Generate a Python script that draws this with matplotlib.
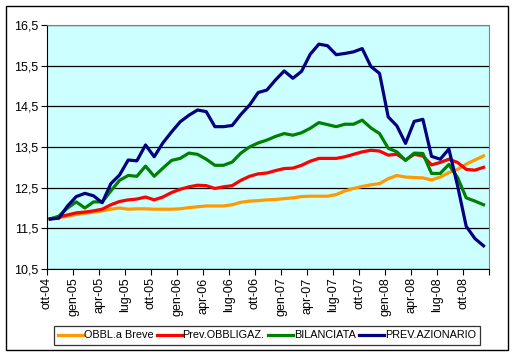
import matplotlib
matplotlib.use("Agg")
import matplotlib.pyplot as plt
from matplotlib.patches import Rectangle

# dati mensili da ott-04 a dic-08
mesi = list(range(51))

obbl_breve = [11.73, 11.76, 11.80, 11.84, 11.87, 11.90, 11.93, 11.97, 12.00, 11.97,
              11.98, 11.98, 11.97, 11.97, 11.97, 11.98, 12.01, 12.03, 12.05, 12.05,
              12.05, 12.08, 12.14, 12.17, 12.18, 12.20, 12.21, 12.23, 12.25, 12.28,
              12.29, 12.29, 12.29, 12.33, 12.42, 12.48, 12.53, 12.57, 12.60, 12.72,
              12.80, 12.76, 12.75, 12.74, 12.69, 12.76, 12.87, 12.95, 13.08, 13.18,
              13.28]

prev_obblig = [11.73, 11.78, 11.83, 11.88, 11.90, 11.93, 11.97, 12.08, 12.16, 12.20,
               12.22, 12.27, 12.20, 12.27, 12.38, 12.46, 12.52, 12.56, 12.55, 12.48,
               12.52, 12.55, 12.68, 12.78, 12.84, 12.86, 12.92, 12.97, 12.98, 13.05,
               13.15, 13.22, 13.22, 13.22, 13.26, 13.32, 13.38, 13.42, 13.40, 13.30,
               13.32, 13.18, 13.32, 13.28, 13.06, 13.12, 13.20, 13.12, 12.95, 12.93,
               13.00]

bilanciata = [11.73, 11.80, 12.00, 12.15, 12.00, 12.15, 12.15, 12.42, 12.68, 12.80,
              12.78, 13.03, 12.78, 12.98, 13.17, 13.22, 13.35, 13.32, 13.20, 13.05,
              13.05, 13.13, 13.35, 13.50, 13.60, 13.67, 13.76, 13.83, 13.79, 13.85,
              13.96, 14.10, 14.05, 14.00, 14.06, 14.06, 14.16, 13.97, 13.83, 13.47,
              13.38, 13.17, 13.35, 13.34, 12.85, 12.85, 13.07, 12.75, 12.25, 12.17,
              12.08]

prev_azion = [11.73, 11.75, 12.05, 12.28, 12.36, 12.30, 12.13, 12.60, 12.81, 13.18,
              13.16, 13.55, 13.26, 13.60, 13.87, 14.12, 14.28, 14.41, 14.37, 14.00,
              14.00, 14.03, 14.30, 14.53, 14.84, 14.90, 15.15, 15.37, 15.19, 15.36,
              15.78, 16.03, 15.99, 15.77, 15.80, 15.84, 15.92, 15.48, 15.31, 14.24,
              14.02, 13.59, 14.13, 14.18, 13.27, 13.20, 13.45, 12.55, 11.55, 11.25,
              11.07]

etichette_x = ["ott-04", "gen-05", "apr-05", "lug-05", "ott-05", "gen-06", "apr-06",
               "lug-06", "ott-06", "gen-07", "apr-07", "lug-07", "ott-07", "gen-08",
               "apr-08", "lug-08", "ott-08", ""]
valori_y = [10.5, 11.5, 12.5, 13.5, 14.5, 15.5, 16.5]

plt.rcParams["font.family"] = "Liberation Sans"
plt.rcParams["font.size"] = 9

fig = plt.figure(figsize=(5.14, 3.55), dpi=100)
ax = fig.add_axes([47 / 514, 1 - 269 / 355, 442 / 514, 244 / 355])
ax.set_facecolor("#CCFFFF")

# i punti cadono a metà circa del mese
x = [m + 0.37 for m in mesi]
ax.plot(x, obbl_breve, color="#FF9900", lw=2.3, label="OBBL.a Breve")
ax.plot(x, prev_obblig, color="#FF0000", lw=2.3, label="Prev.OBBLIGAZ.")
ax.plot(x, bilanciata, color="#008000", lw=2.3, label="BILANCIATA")
ax.plot(x, prev_azion, color="#000080", lw=2.3, label="PREV.AZIONARIO")

ax.set_xlim(0, 51)
ax.set_ylim(10.5, 16.5)
ax.set_xticks(range(0, 52, 3))
ax.set_xticklabels(etichette_x, rotation=90)
ax.set_yticks(valori_y)
ax.set_yticklabels([str(v).replace(".", ",") for v in valori_y])
ax.tick_params(direction="out", length=4, width=0.8, colors="black", pad=2)

ax.yaxis.grid(True, color="black", lw=0.9)
ax.set_axisbelow(True)
for lato in ["top", "right"]:
    ax.spines[lato].set_color("#808080")
for lato in ["left", "bottom"]:
    ax.spines[lato].set_color("black")

leg = fig.legend(loc="center", bbox_to_anchor=(267 / 514, 1 - 335.5 / 355), ncol=4,
                 frameon=True, fancybox=False, edgecolor="black", handlelength=2.3,
                 handletextpad=0.05, columnspacing=0.35, borderpad=0.4,
                 borderaxespad=0, fontsize=7.8)
leg.get_frame().set_linewidth(0.9)

# cornice esterna del grafico
fig.patches.append(Rectangle((5.5 / 514, 1 - 350 / 355), 502.5 / 514, 344.5 / 355,
                             transform=fig.transFigure, fill=False,
                             edgecolor="black", lw=1))

plt.savefig("out.png", dpi=100)
